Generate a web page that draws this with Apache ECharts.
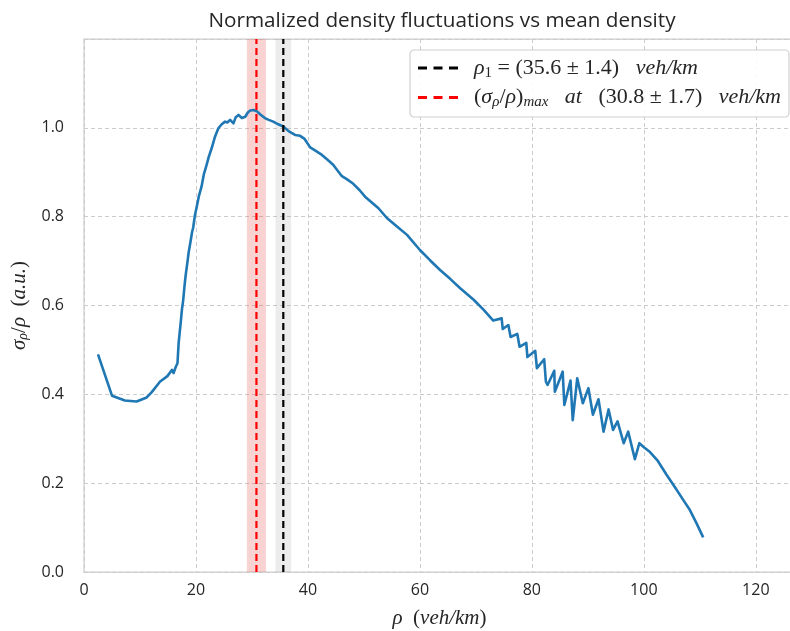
<!DOCTYPE html>
<html>
<head>
<meta charset="UTF-8">
<title>Normalized density fluctuations</title>
<script src="https://cdn.jsdelivr.net/npm/echarts@6/dist/echarts.min.js"></script>
<style>
  html, body { margin: 0; padding: 0; background: #fff; }
  #main { width: 790px; height: 631px; }
</style>
</head>
<body>
<div id="main"></div>
<script type="text/javascript">
// mean density (veh/km)
var densityKm = [
  2.5, 5.0, 7.3, 9.4, 11.2, 12.1, 13.6, 14.9, 15.7, 16.0, 16.4, 16.7, 16.9, 17.1, 17.3, 17.5, 17.7,
  18.0, 18.2, 18.5, 18.7, 19.0, 19.3, 19.5, 19.8, 20.1, 20.5, 21.0, 21.4, 21.8, 22.3, 22.8, 23.4,
  24.0, 24.6, 25.2, 25.6, 26.1, 26.7, 27.1, 27.6, 28.2, 28.8, 29.3, 29.7, 30.3, 30.9, 31.5, 32.3,
  33.0, 33.8, 34.7, 35.6, 36.6, 37.7, 38.6, 39.4, 40.4, 41.4, 42.5, 43.5, 44.5, 46.0, 47.0, 48.1,
  49.2, 50.2, 51.4, 52.6, 54.1, 55.9, 57.7, 60.0, 61.8, 63.6, 65.4, 67.2, 69.6, 71.4, 73.1,
  74.6, 74.8, 75.8, 76.2, 77.4, 77.8, 79.0, 79.2, 80.6, 80.9, 82.2, 82.5, 82.8, 84.0, 84.1,
  85.5, 85.8, 86.9, 87.3, 88.1, 89.1, 90.1, 90.9, 91.9, 92.8, 93.7, 94.5, 95.3, 96.4, 97.2,
  98.4, 99.2, 100.0, 101.1, 102.5, 104.0, 105.5, 107.0, 108.2, 109.4, 110.6
];
// sigma_rho / rho (a.u.)
var normFluct = [
  0.490, 0.397, 0.386, 0.384, 0.393, 0.405, 0.429, 0.441, 0.455, 0.448, 0.462, 0.470, 0.515, 0.540, 0.565, 0.592, 0.610,
  0.650, 0.672, 0.700, 0.720, 0.742, 0.765, 0.775, 0.802, 0.820, 0.845, 0.868, 0.895, 0.912, 0.935, 0.954, 0.980,
  0.999, 1.008, 1.014, 1.012, 1.018, 1.010, 1.024, 1.029, 1.022, 1.025, 1.035, 1.039, 1.040, 1.037, 1.030, 1.022,
  1.018, 1.014, 1.008, 1.003, 0.992, 0.984, 0.982, 0.975, 0.956, 0.948, 0.939, 0.928, 0.917, 0.892, 0.884, 0.874,
  0.860, 0.845, 0.832, 0.819, 0.797, 0.778, 0.759, 0.725, 0.702, 0.680, 0.660, 0.639, 0.613, 0.590, 0.566,
  0.571, 0.547, 0.556, 0.529, 0.536, 0.507, 0.516, 0.484, 0.498, 0.459, 0.479, 0.429, 0.421, 0.453, 0.406,
  0.451, 0.376, 0.431, 0.342, 0.436, 0.380, 0.414, 0.354, 0.389, 0.316, 0.366, 0.320, 0.339, 0.290, 0.316,
  0.254, 0.290, 0.281, 0.270, 0.250, 0.220, 0.192, 0.163, 0.140, 0.110, 0.078
];

// characteristic densities: [centre, error]
var rho1 = [35.6, 1.4];
var rhoMax = [30.8, 1.7];

var xTicks = [0, 20, 40, 60, 80, 100, 120];
var yTicks = [0.0, 0.2, 0.4, 0.6, 0.8, 1.0];

var curveData = [];
for (var i = 0; i < densityKm.length; i++) {
  curveData.push([densityKm[i], normFluct[i]]);
}

var sansFont = 'Open Sans';
var mathFont = 'Liberation Serif';
function mathStyles(size) {
  var sub = Math.round(size * 0.68);
  return {
    i: { fontFamily: mathFont, fontStyle: 'italic', fontSize: size, color: '#262626' },
    n: { fontFamily: mathFont, fontSize: size, color: '#262626' },
    s: { fontFamily: mathFont, fontStyle: 'italic', fontSize: sub, color: '#262626', verticalAlign: 'bottom', padding: [Math.round(size * 0.45), 0, 0, 0] },
    d: { fontFamily: mathFont, fontSize: sub, color: '#262626', verticalAlign: 'bottom', padding: [Math.round(size * 0.45), 0, 0, 0] }
  };
}

// dashed legend handle
var dashIcon = 'path://M0,0 h9 v3 h-9 z M15.5,0 h9 v3 h-9 z M31,0 h9 v3 h-9 z';

var myChart = echarts.init(document.getElementById('main'));
var option = {
  animation: false,
  backgroundColor: '#ffffff',
  title: {
    text: 'Normalized density fluctuations vs mean density',
    left: 437,
    top: 6,
    textAlign: 'center',
    textStyle: { fontFamily: sansFont, fontSize: 20.7, fontWeight: 'normal', color: '#262626' }
  },
  legend: {
    right: 1,
    top: 50,
    orient: 'vertical',
    icon: dashIcon,
    itemWidth: 40,
    itemHeight: 3,
    itemGap: 6,
    padding: [7, 8, 7, 8],
    borderColor: '#d0d0d0',
    borderWidth: 1.2,
    borderRadius: 4,
    backgroundColor: 'rgba(255,255,255,0.85)',
    data: ['rho1', 'rhomax'],
    formatter: function (name) {
      if (name === 'rho1') {
        return '{n|  }{i|ρ}{d|1}{n| = (35.6 ± 1.4)   }{i|veh/km}';
      }
      return '{n|  (}{i|σ}{s|ρ}{n|/}{i|ρ}{n|)}{s|max}{n|   }{i|at}{n|   (30.8 ± 1.7)   }{i|veh/km}';
    },
    textStyle: { rich: mathStyles(22) }
  },
  grid: {
    left: 84,
    right: -5,
    top: 39,
    bottom: 59,
    outerBoundsMode: 'none',
    containLabel: false,
    show: true,
    borderColor: '#cccccc',
    borderWidth: 1.25
  },
  xAxis: {
    type: 'value',
    min: 0,
    max: 127,
    interval: 20,
    name: '{i|ρ}{n|  (}{i|veh/km}{n|)}',
    nameLocation: 'middle',
    nameGap: 36,
    nameTextStyle: { rich: mathStyles(21) },
    axisLine: { show: false },
    axisTick: { show: false },
    axisLabel: {
      margin: 10,
      showMaxLabel: false,
      fontFamily: sansFont,
      fontSize: 16,
      color: '#262626',
      formatter: function (v) { return xTicks.indexOf(v) >= 0 ? String(v) : ''; }
    },
    splitLine: { lineStyle: { color: '#cccccc', width: 1, type: [4, 3] } }
  },
  yAxis: {
    type: 'value',
    min: 0,
    max: 1.2,
    interval: 0.2,
    name: '{i|σ}{s|ρ}{n|/}{i|ρ}{n|  (}{i|a.u.}{n|)}',
    nameLocation: 'middle',
    nameRotate: 90,
    nameGap: 53,
    nameTextStyle: { rich: mathStyles(21) },
    axisLine: { show: false },
    axisTick: { show: false },
    axisLabel: {
      margin: 20,
      showMaxLabel: false,
      fontFamily: sansFont,
      fontSize: 16,
      color: '#262626',
      formatter: function (v) {
        for (var k = 0; k < yTicks.length; k++) {
          if (Math.abs(yTicks[k] - v) < 1e-6) return yTicks[k].toFixed(1);
        }
        return '';
      }
    },
    splitLine: { lineStyle: { color: '#cccccc', width: 1, type: [4, 3] } }
  },
  series: [
    {
      name: 'bands',
      type: 'line',
      data: [],
      silent: true,
      z: 1,
      markArea: {
        silent: true,
        data: [
          [{ xAxis: rhoMax[0] - rhoMax[1], itemStyle: { color: 'rgba(230,60,60,0.23)' } }, { xAxis: rhoMax[0] + rhoMax[1] }],
          [{ xAxis: rho1[0] - rho1[1], itemStyle: { color: 'rgba(128,128,128,0.15)' } }, { xAxis: rho1[0] + rho1[1] }]
        ]
      }
    },
    {
      name: 'curve',
      type: 'line',
      data: curveData,
      showSymbol: false,
      symbol: 'none',
      z: 2,
      lineStyle: { color: '#1f77b4', width: 2.6, join: 'round' }
    },
    {
      name: 'rho1',
      type: 'line',
      data: [[rho1[0], 0], [rho1[0], 1.2]],
      symbol: 'none',
      z: 3,
      itemStyle: { color: '#000000' },
      lineStyle: { color: '#000000', width: 2.2, type: [7, 4] }
    },
    {
      name: 'rhomax',
      type: 'line',
      data: [[rhoMax[0], 0], [rhoMax[0], 1.2]],
      symbol: 'none',
      z: 3,
      itemStyle: { color: '#ff0000' },
      lineStyle: { color: '#ff0000', width: 2.2, type: [7, 4] }
    }
  ]
};
myChart.setOption(option);
</script>
</body>
</html>
